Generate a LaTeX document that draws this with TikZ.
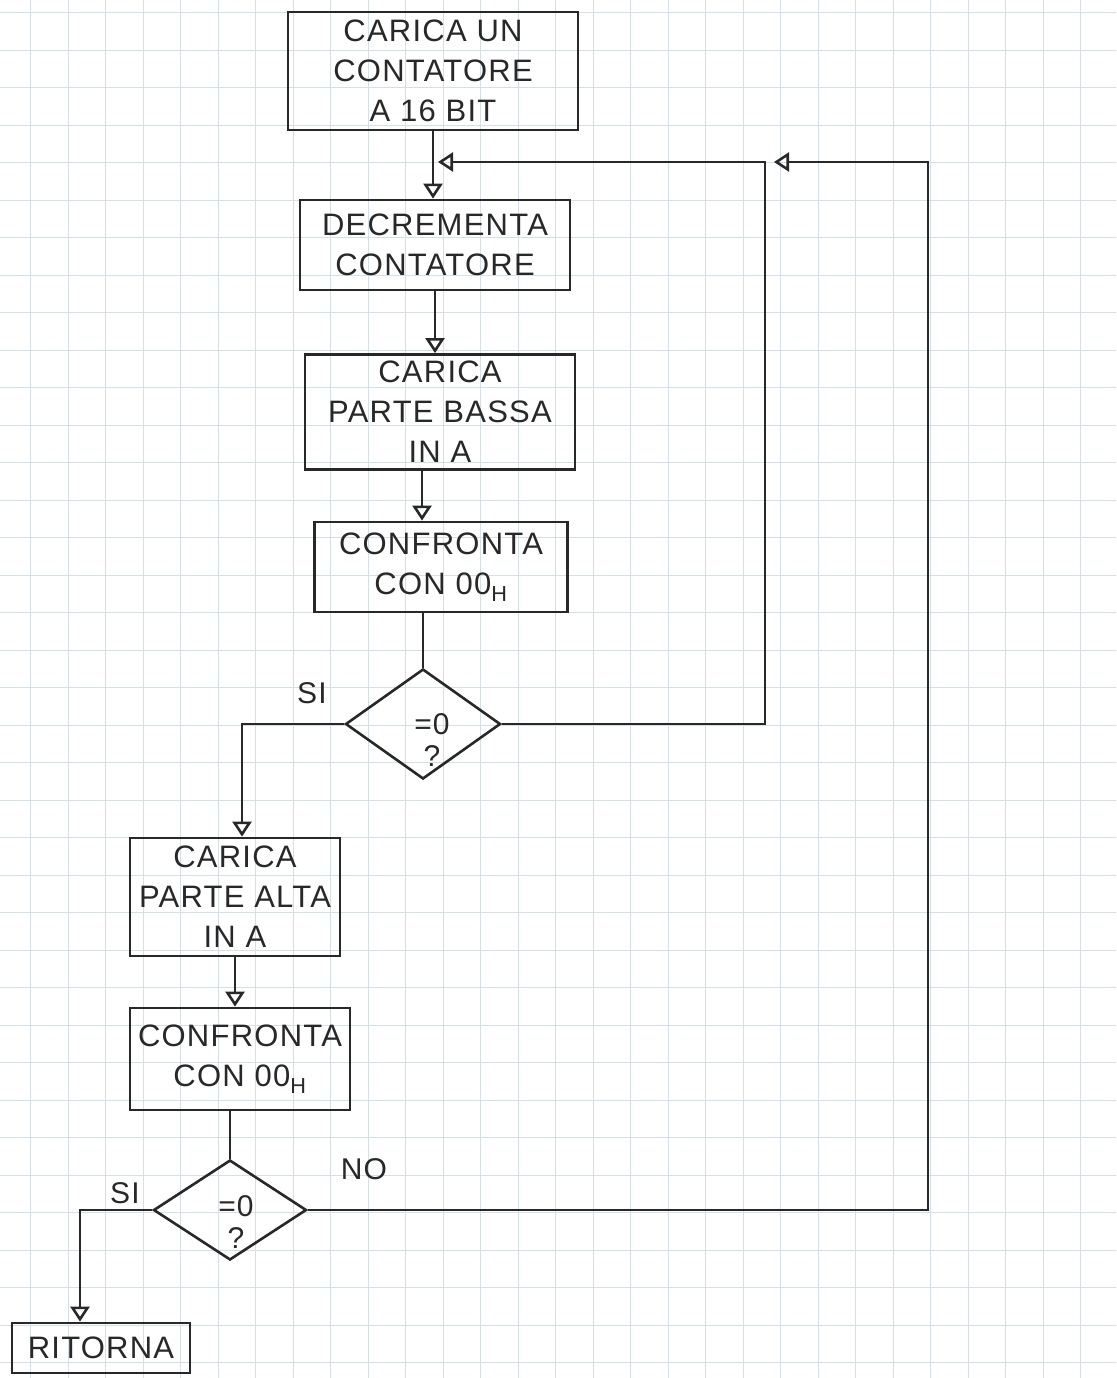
\documentclass[tikz,border=0pt]{standalone}
\usepackage{fontspec}
\setmainfont{Liberation Sans}[LetterSpace=4]
\usetikzlibrary{arrows.meta,shapes.geometric}
\definecolor{pen}{RGB}{40,40,40}
\definecolor{gridc}{RGB}{212,223,232}
\begin{document}
\begin{tikzpicture}[x=1pt,y=-1pt,
  box/.style={draw=pen,line width=2.8pt,rectangle,align=center,inner sep=0pt,
    font=\fontsize{31}{40}\selectfont,text=pen},
  dia/.style={draw=pen,line width=2.6pt,diamond,inner sep=0pt},
  lbl/.style={font=\fontsize{30}{32}\selectfont,text=pen,align=center,inner sep=0pt},
  wire/.style={draw=pen,line width=2.8pt},
  flow/.style={wire,-{Triangle[open,length=15pt,width=19pt,line width=2.6pt]}}]
\useasboundingbox (0,0) rectangle (1116,1378);
\fill[white] (0,0) rectangle (1116,1378);
% squared paper
\foreach \i in {0,...,29} \draw[gridc,line width=0.9pt] ({30.5+37.5*\i},0) -- ({30.5+37.5*\i},1378);
\foreach \j in {0,...,36} \draw[gridc,line width=0.9pt] (0,{12.5+37.5*\j}) -- (1116,{12.5+37.5*\j});
% boxes
\node[box,minimum width=290pt,minimum height=118pt] (b1) at (433,71) {CARICA UN\\CONTATORE\\A 16 BIT};
\node[box,minimum width=270pt,minimum height=90pt] (b2) at (435,245) {DECREMENTA\\CONTATORE};
\node[box,minimum width=270pt,minimum height=115pt] (b3) at (440,412) {CARICA\\PARTE BASSA\\IN A};
\node[box,minimum width=253pt,minimum height=90pt] (b4) at (441,567) {CONFRONTA\\CON 00\textsubscript{H}};
\node[dia,minimum width=155pt,minimum height=110pt] (d1) at (423,724) {};
\node[lbl] (t1) at (432,740) {=0\\?};
\node[box,minimum width=210pt,minimum height=118pt] (b5) at (235,897) {CARICA\\PARTE ALTA\\IN A};
\node[box,minimum width=220pt,minimum height=102pt] (b6) at (240,1059) {CONFRONTA\\CON 00\textsubscript{H}};
\node[dia,minimum width=153pt,minimum height=100pt] (d2) at (230,1210) {};
\node[lbl] (t2) at (236,1222) {=0\\?};
\node[box,minimum width=178pt,minimum height=50pt] (b7) at (101,1348) {RITORNA};
% branch labels
\node[lbl] (si1) at (312,693) {SI};
\node[lbl] (si2) at (125,1193) {SI};
\node[lbl] (no2) at (364,1169) {NO};
% junction points
\coordinate (c1) at (765,162);
\coordinate (c2) at (928,162);
\coordinate (j1) at (438,162);
\coordinate (j2) at (774,162);
% connectors
\draw[flow] (b1.south) -- (b1.south |- b2.north);
\draw[flow] (b2.south) -- (b2.south |- b3.north);
\draw[flow] ([xshift=-18pt]b3.south) -- ([xshift=-18pt]b3.south |- b4.north);
\draw[wire] (d1.north |- b4.south) -- (d1.north);
\draw[flow] (d1.west) -| ([xshift=7pt]b5.north);
\draw[flow] (d1.east) -| (c1) -- (j1);
\draw[flow] (b5.south) -- (b5.south |- b6.north);
\draw[wire] (d2.north |- b6.south) -- (d2.north);
\draw[flow] (d2.west) -| ([xshift=-21pt]b7.north);
\draw[flow] (d2.east) -| (c2) -- (j2);
\end{tikzpicture}
\end{document}
